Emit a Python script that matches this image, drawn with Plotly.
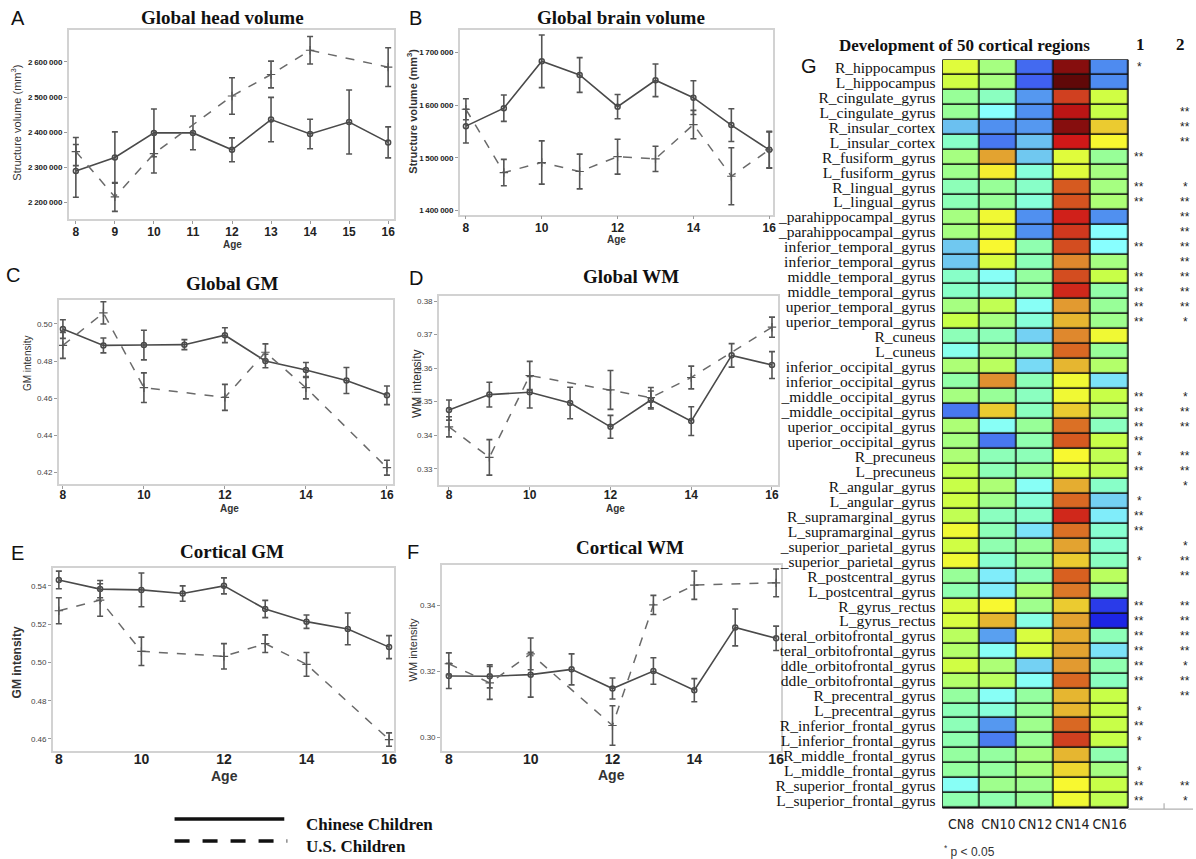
import plotly.graph_objects as go

W, H = 1196, 859

def PX(x):
    return x / W

def PY(y):
    return 1 - y / H

# ---------------- DATA ----------------
ages_all = [8, 9, 10, 11, 12, 13, 14, 15, 16]
ages_us = [8, 9, 10, 12, 13, 14, 16]

# A: Global head volume
head_cn = [2290000, 2328000, 2398000, 2398000, 2350000, 2436000, 2395000, 2429000, 2371000]
head_cn_err = [75000, 73000, 68000, 48000, 34000, 63000, 42000, 91000, 44000]
head_us = [2345000, 2216000, 2339000, 2503000, 2564000, 2633000, 2585000]
head_us_err = [40000, 41000, 55000, 52000, 38000, 39000, 55000]

# B: Global brain volume
brain_cn = [1560000, 1594000, 1683000, 1657000, 1597000, 1647000, 1614000, 1562000, 1515000]
brain_cn_err = [32000, 25000, 50000, 33000, 23000, 31000, 32000, 31000, 34000]
brain_us = [1592000, 1472000, 1491000, 1474000, 1502000, 1498000, 1563000, 1465000, 1515000]
brain_us_err = [20000, 25000, 41000, 33000, 33000, 24000, 27000, 54000, 35000]

# C: Global GM
gm_cn = [0.4972, 0.4884, 0.4886, 0.4888, 0.4939, 0.4800, 0.4752, 0.4695, 0.4615]
gm_cn_err = [0.005, 0.004, 0.008, 0.0027, 0.004, 0.0036, 0.004, 0.007, 0.005]
gm_us = [0.4884, 0.5059, 0.4656, 0.4604, 0.4847, 0.4656, 0.4225]
gm_us_err = [0.007, 0.006, 0.008, 0.007, 0.0045, 0.006, 0.004]

# D: Global WM
wm_cn = [0.3475, 0.3521, 0.3528, 0.3496, 0.3425, 0.3505, 0.3442, 0.3638, 0.3609]
wm_cn_err = [0.003, 0.0037, 0.0047, 0.0047, 0.0034, 0.0027, 0.0043, 0.0035, 0.004]
wm_us = [0.3425, 0.3334, 0.3578, 0.3535, 0.3512, 0.3572, 0.3722]
wm_us_err = [0.003, 0.0053, 0.0042, 0.0058, 0.003, 0.0034, 0.003]

# E: Cortical GM
cgm_cn = [0.5431, 0.5383, 0.5379, 0.5360, 0.5400, 0.5279, 0.5213, 0.5175, 0.5080]
cgm_cn_err = [0.0046, 0.0045, 0.0088, 0.004, 0.0042, 0.0045, 0.0035, 0.0083, 0.006]
cgm_us = [0.5270, 0.5326, 0.5058, 0.5032, 0.5098, 0.4990, 0.4597]
cgm_us_err = [0.0068, 0.0085, 0.0074, 0.0066, 0.0046, 0.0062, 0.0035]

# F: Cortical WM
cwm_cn = [0.3186, 0.3185, 0.3190, 0.3206, 0.3148, 0.3201, 0.3143, 0.3333, 0.3300]
cwm_cn_err = [0.0038, 0.0035, 0.0068, 0.0047, 0.0032, 0.004, 0.0035, 0.0056, 0.0037]
cwm_us = [0.3223, 0.3165, 0.3253, 0.3036, 0.3401, 0.3461, 0.3468]
cwm_us_err = [0.0033, 0.005, 0.0048, 0.006, 0.0029, 0.0043, 0.0042]

# G: heatmap
regions = [
    "R_hippocampus", "L_hippocampus", "R_cingulate_gyrus", "L_cingulate_gyrus",
    "R_insular_cortex", "L_insular_cortex", "R_fusiform_gyrus", "L_fusiform_gyrus",
    "R_lingual_gyrus", "L_lingual_gyrus", "_parahippocampal_gyrus", "_parahippocampal_gyrus",
    "inferior_temporal_gyrus", "inferior_temporal_gyrus", "middle_temporal_gyrus",
    "middle_temporal_gyrus", "uperior_temporal_gyrus", "uperior_temporal_gyrus",
    "R_cuneus", "L_cuneus", "inferior_occipital_gyrus", "inferior_occipital_gyrus",
    "_middle_occipital_gyrus", "_middle_occipital_gyrus", "uperior_occipital_gyrus",
    "uperior_occipital_gyrus", "R_precuneus", "L_precuneus", "R_angular_gyrus",
    "L_angular_gyrus", "R_supramarginal_gyrus", "L_supramarginal_gyrus",
    "_superior_parietal_gyrus", "_superior_parietal_gyrus", "R_postcentral_gyrus",
    "L_postcentral_gyrus", "R_gyrus_rectus", "L_gyrus_rectus",
    "teral_orbitofrontal_gyrus", "teral_orbitofrontal_gyrus",
    "ddle_orbitofrontal_gyrus", "ddle_orbitofrontal_gyrus", "R_precentral_gyrus",
    "L_precentral_gyrus", "R_inferior_frontal_gyrus", "L_inferior_frontal_gyrus",
    "R_middle_frontal_gyrus", "L_middle_frontal_gyrus", "R_superior_frontal_gyrus",
    "L_superior_frontal_gyrus",
]
groups = ["CN8", "CN10", "CN12", "CN14", "CN16"]
cn8 = [0.60, 0.58, 0.50, 0.50, 0.31, 0.44, 0.52, 0.51, 0.46, 0.46,
       0.52, 0.52, 0.32, 0.32, 0.44, 0.44, 0.52, 0.57, 0.46, 0.40,
       0.53, 0.48, 0.52, 0.20, 0.53, 0.52, 0.53, 0.56, 0.57, 0.58,
       0.56, 0.62, 0.58, 0.62, 0.50, 0.47, 0.59, 0.59, 0.55, 0.54,
       0.58, 0.54, 0.49, 0.46, 0.46, 0.47, 0.49, 0.49, 0.39, 0.47]
cn10 = [0.52, 0.52, 0.45, 0.38, 0.25, 0.20, 0.71, 0.64, 0.50, 0.50,
        0.62, 0.60, 0.63, 0.59, 0.39, 0.42, 0.56, 0.52, 0.46, 0.51,
        0.55, 0.73, 0.50, 0.67, 0.39, 0.20, 0.46, 0.46, 0.53, 0.51,
        0.45, 0.46, 0.47, 0.43, 0.36, 0.36, 0.63, 0.69, 0.27, 0.39,
        0.53, 0.55, 0.39, 0.42, 0.26, 0.21, 0.49, 0.49, 0.51, 0.47]
cn12 = [0.17, 0.15, 0.26, 0.25, 0.26, 0.31, 0.32, 0.42, 0.44, 0.42,
        0.25, 0.25, 0.47, 0.46, 0.49, 0.49, 0.39, 0.42, 0.33, 0.50,
        0.34, 0.46, 0.45, 0.45, 0.50, 0.47, 0.46, 0.50, 0.39, 0.42,
        0.44, 0.35, 0.50, 0.50, 0.46, 0.53, 0.51, 0.41, 0.59, 0.59,
        0.33, 0.39, 0.49, 0.50, 0.51, 0.50, 0.52, 0.52, 0.51, 0.50]
cn14 = [0.96, 1.00, 0.84, 0.91, 0.96, 0.89, 0.60, 0.60, 0.80, 0.81,
        0.88, 0.85, 0.82, 0.74, 0.82, 0.87, 0.72, 0.69, 0.74, 0.78,
        0.69, 0.62, 0.62, 0.67, 0.77, 0.80, 0.63, 0.59, 0.70, 0.78,
        0.87, 0.77, 0.71, 0.67, 0.79, 0.76, 0.67, 0.71, 0.70, 0.71,
        0.72, 0.78, 0.69, 0.69, 0.78, 0.84, 0.69, 0.66, 0.63, 0.62]
cn16 = [0.24, 0.24, 0.58, 0.57, 0.67, 0.63, 0.50, 0.52, 0.52, 0.53,
        0.25, 0.38, 0.38, 0.52, 0.57, 0.48, 0.50, 0.51, 0.62, 0.50,
        0.54, 0.35, 0.57, 0.53, 0.45, 0.57, 0.56, 0.56, 0.44, 0.33,
        0.36, 0.43, 0.43, 0.45, 0.55, 0.50, 0.08, 0.04, 0.46, 0.35,
        0.47, 0.45, 0.57, 0.57, 0.57, 0.57, 0.47, 0.52, 0.57, 0.56]
sig1 = ["*", "", "", "", "", "", "**", "", "**", "**",
        "", "", "**", "", "**", "**", "**", "**", "", "",
        "", "", "**", "**", "**", "**", "*", "**", "", "*",
        "**", "**", "", "*", "", "", "**", "**", "**", "**",
        "**", "**", "", "*", "**", "*", "", "*", "**", "**"]
sig2 = ["", "", "", "**", "**", "**", "", "", "*", "**",
        "**", "**", "**", "**", "**", "**", "**", "*", "", "",
        "", "", "*", "**", "**", "", "**", "**", "*", "",
        "", "", "*", "**", "**", "", "**", "**", "**", "**",
        "*", "**", "**", "", "", "", "", "", "**", "*"]

# ---------------- STYLE ----------------
SERIF = "Liberation Serif, Times New Roman, serif"
SANS = "Liberation Sans, Arial, sans-serif"
CN_COLOR = "#4a4a4a"
US_COLOR = "#6a6a6a"

fig = go.Figure()

panels = [
    dict(n=1, xd=(69, 395), yd=(29, 219), xr=(7.82, 16.15), yr=(2151800, 2690800),
         cn=head_cn, cne=head_cn_err, us=head_us, use=head_us_err, usx=ages_us,
         xfs=12, xstand=-3, xticks="outside"),
    dict(n=2, xd=(461, 775), yd=(29, 214), xr=(7.84, 16.1), yr=(1392400, 1742500),
         cn=brain_cn, cne=brain_cn_err, us=brain_us, use=brain_us_err, usx=ages_all,
         xfs=12, xstand=-2, xticks="outside"),
    dict(n=3, xd=(59, 394), yd=(300, 484), xr=(7.9, 16.15), yr=(0.4138, 0.5127),
         cn=gm_cn, cne=gm_cn_err, us=gm_us, use=gm_us_err, usx=ages_us,
         xfs=12, xstand=-4, xticks="outside"),
    dict(n=4, xd=(440, 780), yd=(296, 485), xr=(7.75, 16.15), yr=(0.3252, 0.3814),
         cn=wm_cn, cne=wm_cn_err, us=wm_us, use=wm_us_err, usx=ages_us,
         xfs=12, xstand=-5, xticks="outside"),
    dict(n=5, xd=(53, 395), yd=(568, 752), xr=(7.855, 16.12), yr=(0.4536, 0.5495),
         cn=cgm_cn, cne=cgm_cn_err, us=cgm_us, use=cgm_us_err, usx=ages_us,
         xfs=14, xstand=-6, xticks=""),
    dict(n=6, xd=(443, 783), yd=(565, 752), xr=(7.83, 16.12), yr=(0.2958, 0.3523),
         cn=cwm_cn, cne=cwm_cn_err, us=cwm_us, use=cwm_us_err, usx=ages_us,
         xfs=14, xstand=-6, xticks=""),
]

layout = {}
for p in panels:
    n = p["n"]
    xa = "x" if n == 1 else f"x{n}"
    ya = "y" if n == 1 else f"y{n}"
    fig.add_trace(go.Scatter(
        x=ages_all, y=p["cn"], xaxis=xa, yaxis=ya, mode="lines+markers",
        line=dict(color=CN_COLOR, width=1.6),
        marker=dict(symbol="circle-open", size=5, color=CN_COLOR, line=dict(width=1.5)),
        error_y=dict(type="data", array=p["cne"], width=3, thickness=1.6, color="#555555"),
        showlegend=False, name="Chinese Children"))
    fig.add_trace(go.Scatter(
        x=p["usx"], y=p["us"], xaxis=xa, yaxis=ya, mode="lines+markers",
        line=dict(color=US_COLOR, width=1.5, dash="dash"),
        marker=dict(symbol="cross-thin-open", size=6, color="#555555", line=dict(width=1.2)),
        error_y=dict(type="data", array=p["use"], width=3, thickness=1.6, color="#555555"),
        showlegend=False, name="U.S. Children"))

    xkey = "xaxis" if n == 1 else f"xaxis{n}"
    ykey = "yaxis" if n == 1 else f"yaxis{n}"
    xtick_vals = ages_all if n == 1 else [8, 10, 12, 14, 16]
    layout[xkey] = dict(
        domain=[PX(p["xd"][0]), PX(p["xd"][1])], anchor=ya, range=list(p["xr"]),
        tickvals=xtick_vals, ticks=p["xticks"], ticklen=3, tickcolor="#9a9a9a",
        ticklabelstandoff=p["xstand"],
        tickfont=dict(family=SANS, size=p["xfs"], color="#222222", weight="bold"),
        showline=True, mirror=True, linecolor="#d2d2d2", linewidth=1.5,
        showgrid=False, zeroline=False)
    if n in (1, 2):
        step = 100000
        lo = 2200000 if n == 1 else 1400000
        hi = 2600000 if n == 1 else 1700000
        vals = list(range(lo, hi + 1, step))
        texts = [f"{v:,}".replace(",", "\u2009") for v in vals]
        yfont = dict(family=SANS, size=8, color="#222222", weight="bold")
    else:
        if n == 3:
            vals = [0.42, 0.44, 0.46, 0.48, 0.50]
        elif n == 4:
            vals = [0.33, 0.34, 0.35, 0.36, 0.37, 0.38]
        elif n == 5:
            vals = [0.46, 0.48, 0.50, 0.52, 0.54]
        else:
            vals = [0.30, 0.32, 0.34]
        texts = [f"{v:.2f}" for v in vals]
        yfont = dict(family=SANS, size=8, color="#444444")
    layout[ykey] = dict(
        domain=[PY(p["yd"][1]), PY(p["yd"][0])], anchor=xa, range=list(p["yr"]),
        tickvals=vals, ticktext=texts, ticks="outside", ticklen=3, tickcolor="#9a9a9a",
        tickfont=yfont, showline=True, mirror=True, linecolor="#d2d2d2", linewidth=1.5,
        showgrid=False, zeroline=False)

# ---------------- HEATMAP ----------------
z = [[cn8[i], cn10[i], cn12[i], cn14[i], cn16[i]] for i in range(len(regions))]
jet_like = [
    [0.00, "#1010e0"], [0.15, "#4060f0"], [0.25, "#5090f0"], [0.32, "#70c8f0"],
    [0.38, "#88ffff"], [0.44, "#88ffc8"], [0.50, "#98ff98"], [0.57, "#c8ff48"],
    [0.63, "#f8f830"], [0.68, "#e8c030"], [0.73, "#e09030"], [0.79, "#d86020"],
    [0.84, "#d04020"], [0.89, "#d01818"], [0.95, "#901010"], [1.00, "#600808"],
]
row_idx = list(range(len(regions)))
fig.add_trace(go.Heatmap(
    z=z, x=list(range(len(groups))), y=row_idx, xaxis="x7", yaxis="y7",
    colorscale=jet_like, zmin=0, zmax=1, showscale=False, xgap=1.6, ygap=1.6,
    hoverinfo="skip"))

HX0, HX1, HY0, HY1 = 945, 1131, 59, 809
layout["xaxis7"] = dict(
    domain=[PX(HX0), PX(HX1)], anchor="y7", range=[-0.5, 4.5],
    tickvals=list(range(len(groups))), ticktext=groups, ticks="", showgrid=False,
    zeroline=False, showline=False, ticklabelstandoff=6,
    tickfont=dict(family="Liberation Sans Narrow, Arial Narrow, DejaVu Sans Condensed, sans-serif",
                  size=14, color="#222222"))
layout["yaxis7"] = dict(
    domain=[PY(HY1), PY(HY0)], anchor="x7", range=[len(regions) - 0.5, -0.5],
    tickvals=row_idx, ticktext=regions, ticks="", showgrid=False, zeroline=False,
    showline=False, ticklabelstandoff=6,
    tickfont=dict(family=SERIF, size=15.5, color="#111111"))

shapes = [
    dict(type="rect", xref="x7 domain", yref="y7 domain", x0=0, x1=1, y0=0, y1=1,
         fillcolor="#111111", line=dict(color="#111111", width=1), layer="below"),
    dict(type="line", xref="paper", yref="paper", x0=PX(HX1), x1=PX(1196),
         y0=PY(810), y1=PY(810), line=dict(color="#b0b0b0", width=1.2)),
    dict(type="line", xref="paper", yref="paper", x0=PX(1167), x1=PX(1167),
         y0=PY(810), y1=PY(804), line=dict(color="#b0b0b0", width=1.2)),
    # legend samples
    dict(type="line", xref="paper", yref="paper", x0=PX(175), x1=PX(285),
         y0=PY(820), y1=PY(820), line=dict(color="#111111", width=3.5)),
    dict(type="line", xref="paper", yref="paper", x0=PX(175), x1=PX(288),
         y0=PY(842), y1=PY(842), line=dict(color="#111111", width=3.5, dash="15px,13px")),
]

annotations = []

def txt(x, y, text, size, family=SANS, bold=False, xanchor="center", yanchor="middle",
        angle=0, color="#111111"):
    annotations.append(dict(
        x=PX(x), y=PY(y), xref="paper", yref="paper", text=text, showarrow=False,
        xanchor=xanchor, yanchor=yanchor, textangle=angle,
        font=dict(family=family, size=size, color=color, weight="bold" if bold else "normal")))

# panel titles
txt(223, 17, "Global head volume", 19, SERIF, True)
txt(623, 17, "Global brain volume", 19, SERIF, True)
txt(233, 283, "Global GM", 19, SERIF, True)
txt(633, 276, "Global WM", 19, SERIF, True)
txt(233, 552, "Cortical GM", 19, SERIF, True)
txt(632, 548, "Cortical WM", 19, SERIF, True)
# panel letters
txt(18, 17, "A", 20)
txt(417, 17, "B", 20)
txt(13, 275, "C", 20)
txt(417, 278, "D", 20)
txt(18, 553, "E", 20)
txt(414, 552, "F", 20)
txt(811, 65, "G", 20)
# axis titles
txt(233, 244, "Age", 10, SANS, True, color="#333333")
txt(618, 239, "Age", 10, SANS, True, color="#333333")
txt(230, 509, "Age", 10, SANS, True, color="#333333")
txt(617, 509, "Age", 10, SANS, True, color="#333333")
txt(225, 777, "Age", 14, SANS, True, color="#333333")
txt(613, 776, "Age", 14, SANS, True, color="#333333")
txt(16, 122, "Structure volume (mm<sup>3</sup>)", 11, SANS, False, angle=-90, color="#333333")
txt(413, 110, "Structure volume (mm<sup>3</sup>)", 11, SANS, True, angle=-90, color="#333333")
txt(27, 363, "GM intensity", 10, SANS, False, angle=-90, color="#333333")
txt(418, 383, "WM intensity", 12, SANS, False, angle=-90, color="#333333")
txt(18, 663, "GM intensity", 12, SANS, True, angle=-90, color="#333333")
txt(415, 650, "WM intensity", 11, SANS, False, angle=-90, color="#333333")
# heatmap titles
txt(967, 45, "Development of 50 cortical regions", 17, SERIF, True)
txt(1143, 44, "1", 17, SERIF, True)
txt(1183, 44, "2", 17, SERIF, True)
txt(972, 852, "<sup>*</sup> p < 0.05", 12, SANS, False, color="#333333")
# legend text
txt(305, 825, "Chinese Children", 17, SERIF, True, xanchor="left")
txt(305, 847, "U.S. Children", 17, SERIF, True, xanchor="left")

# significance stars (positioned on heatmap rows)
for i in row_idx:
    for s, xp in ((sig1[i], 1142), (sig2[i], 1188)):
        if s:
            annotations.append(dict(
                x=PX(xp), y=i, xref="paper", yref="y7", text=s, showarrow=False,
                xanchor="center", yanchor="middle",
                font=dict(family=SANS, size=12, color="#222222")))

fig.update_layout(
    width=W, height=H, margin=dict(l=0, r=0, t=0, b=0),
    paper_bgcolor="white", plot_bgcolor="white", showlegend=False,
    shapes=shapes, annotations=annotations, **layout)

fig.write_html("out.html", config={"displayModeBar": False},
               post_script="document.body.style.margin='0px';document.body.style.overflow='hidden';")
